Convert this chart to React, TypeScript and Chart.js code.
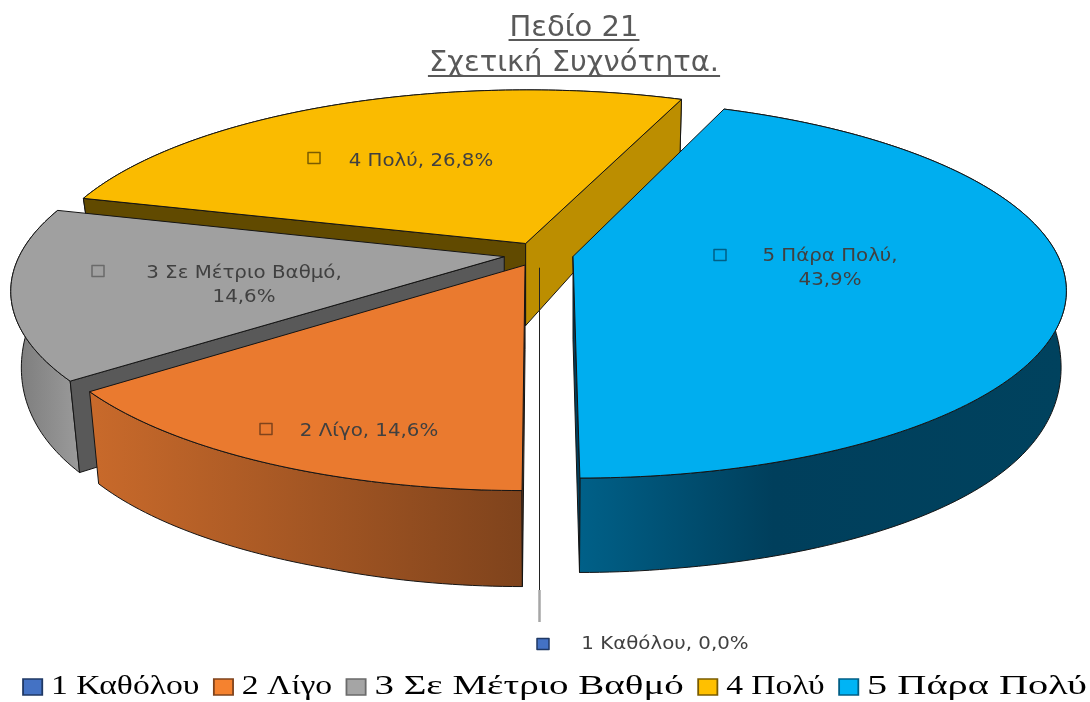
import React, { useEffect, useRef } from "react";
import { Chart, registerables } from "chart.js";

Chart.register(...registerables);

const categories = ["1 Καθόλου", "2 Λίγο", "3 Σε Μέτριο Βαθμό", "4 Πολύ", "5 Πάρα Πολύ"];
const percentages = [0, 14.6, 14.6, 26.8, 43.9];
const sliceOffsets = [20, 18, 20, 17.5, 19];
const titleLines = ["Πεδίο 21", "Σχετική Συχνότητα."];
const topColors = ["#4472c4", "#ea7a2f", "#a0a0a0", "#fabb00", "#00aeef"];
const legendFills = ["#4472c4", "#f5822f", "#a5a5a5", "#ffc000", "#00b4f5"];
const edgeColors = ["#1f3864", "#7f431c", "#6a6a6a", "#7a5c00", "#005f86"];
const startCutColors = ["#2f5597", "#7f431c", "#595959", "#614a00", "#003f5c"];
const endCutColors = ["#2f5597", "#7f431c", "#595959", "#bc8e00", "#003f5c"];
const legendTextStretch = [1, 1, 1.16, 1, 1.2];
const paintOrder = [3, 2, 4, 1];

const labelLayout = [
  { lines: 1, cx: 665, cy: 644, kx: 543, ky: 644 },
  { lines: 1, cx: 369, cy: 431, kx: 266, ky: 429 },
  { lines: 2, cx: 244, cy: 273, kx: 98, ky: 271 },
  { lines: 1, cx: 421, cy: 161, kx: 314, ky: 158 },
  { lines: 2, cx: 830, cy: 256, kx: 720, ky: 255 },
];

const SANS = "'DejaVu Sans'";
const CX = 539.5, CY = 254, R = 484, K = 0.17, A = 183;
const TIP_DEPTH = 83, RIM_DEPTH = 66, FAR_B = 185, NEAR_B = 195, RIM_BULGE = 10;
const SHRINK_LEFT = 0.98, SHRINK_RIGHT = 0.99;
const LEGEND_STRETCH = 1.2;

type P = { x: number; y: number };

function project(u: number, v: number, bottom: boolean, rim: boolean): P {
  const w = 1 - K * v;
  if (!bottom) return { x: CX + (R * u) / w, y: CY + (A * v) / w };
  const depth = rim ? RIM_DEPTH : TIP_DEPTH;
  const shrink = rim ? (u < 0 ? SHRINK_LEFT : SHRINK_RIGHT) : 1;
  const bulge = rim && v > 0 && v < 1 ? RIM_BULGE * Math.sin(Math.PI * v) : 0;
  return {
    x: CX + (R * shrink * u) / w,
    y: CY + ((v < 0 ? FAR_B : NEAR_B) * v + depth) / w + bulge,
  };
}

function slicePoints(arc: any, bottom: boolean) {
  const { startAngle, endAngle, outerRadius } = arc.getProps(["startAngle", "endAngle", "outerRadius"], true);
  const mid = (startAngle + endAngle) / 2;
  const e = arc.options.offset / outerRadius;
  const ou = Math.cos(mid) * e, ov = Math.sin(mid) * e;
  const tip = project(ou, ov, bottom, false);
  const rim: P[] = [];
  const n = Math.max(1, Math.ceil(((endAngle - startAngle) * 180) / Math.PI));
  for (let i = 0; i <= n; i++) {
    const a = startAngle + ((endAngle - startAngle) * i) / n;
    rim.push(project(ou + Math.cos(a), ov + Math.sin(a), bottom, true));
  }
  return { tip, rim };
}

function fillPoly(ctx: CanvasRenderingContext2D, pts: P[], fill: any) {
  ctx.beginPath();
  pts.forEach((p, i) => (i ? ctx.lineTo(p.x, p.y) : ctx.moveTo(p.x, p.y)));
  ctx.closePath();
  ctx.fillStyle = fill;
  ctx.fill();
  ctx.strokeStyle = "#141414";
  ctx.lineWidth = 1;
  ctx.lineJoin = "round";
  ctx.stroke();
}

function wallGradient(ctx: CanvasRenderingContext2D, i: number) {
  if (i === 1) {
    const g = ctx.createLinearGradient(88, 0, 522, 0);
    g.addColorStop(0, "#c96a2b");
    g.addColorStop(1, "#7f431c");
    return g;
  }
  if (i === 2) {
    const g = ctx.createLinearGradient(12, 0, 82, 0);
    g.addColorStop(0, "#7a7a7a");
    g.addColorStop(1, "#9c9c9c");
    return g;
  }
  if (i === 4) {
    const g = ctx.createLinearGradient(580, 0, 1062, 0);
    g.addColorStop(0, "#006088");
    g.addColorStop(0.4, "#003f5c");
    g.addColorStop(1, "#00425e");
    return g;
  }
  return endCutColors[i];
}

// A cut face shows only when extruding its top edge downward leaves the slice.
function cutVisible(tip: P, end: P, inner: P) {
  const ex = end.x - tip.x, ey = end.y - tip.y;
  const side = ex * (inner.y - tip.y) - ey * (inner.x - tip.x);
  return ex * side < 0;
}

// Runs fn with legend text widened per item, both when measuring and drawing.
function withLegendText(ctx: any, fn: () => void) {
  const factor = (t: string) => legendTextStretch[categories.indexOf(t)] ?? 1;
  const measure = ctx.measureText;
  const fill = ctx.fillText;
  ctx.measureText = function (t: string) {
    return { width: measure.call(ctx, t).width * factor(t) };
  };
  ctx.fillText = function (t: string, x: number, y: number) {
    ctx.save();
    ctx.translate(x, y);
    ctx.scale(factor(t), 1);
    fill.call(ctx, t, 0, 0);
    ctx.restore();
  };
  fn();
  delete ctx.measureText;
  delete ctx.fillText;
}

const pie3d = {
  id: "pie3d",
  beforeLayout(chart: any) {
    const legend = chart.legend;
    if (legend.__wrapped) return;
    legend.__wrapped = true;
    const ctx = chart.ctx;
    const fit = legend.fit;
    legend.fit = function (...args: any[]) {
      withLegendText(ctx, () => fit.apply(legend, args));
    };
    const draw = legend.draw;
    legend.draw = function (...args: any[]) {
      const c = (legend.left + legend.right) / 2;
      ctx.save();
      ctx.translate(c, 0);
      ctx.scale(LEGEND_STRETCH, 1);
      ctx.translate(-c, 0);
      withLegendText(ctx, () => draw.apply(legend, args));
      legend.legendHitBoxes.forEach((h: any, i: number) => {
        const mid = h.top + h.height / 2;
        ctx.fillStyle = legendFills[i];
        ctx.strokeStyle = edgeColors[i];
        ctx.lineWidth = 1.5;
        ctx.fillRect(h.left, mid - 8, 16, 16);
        ctx.strokeRect(h.left, mid - 8, 16, 16);
      });
      ctx.restore();
    };
  },
  afterLayout(chart: any) {
    chart.titleBlock.left += 29;
    chart.titleBlock.right += 29;
    const legend = chart.legend;
    legend.left += 10;
    legend.right += 10;
    legend.top += 11;
    legend.bottom += 11;
  },
  beforeDatasetDraw() {
    return false;
  },
  afterDatasetsDraw(chart: any) {
    const ctx: CanvasRenderingContext2D = chart.ctx;
    const arcs = chart.getDatasetMeta(0).data;
    ctx.save();
    paintOrder.forEach((i) => {
      const top = slicePoints(arcs[i], false);
      const bot = slicePoints(arcs[i], true);
      const n = top.rim.length - 1;
      const inner = top.rim[Math.floor(n / 2)];
      fillPoly(ctx, [...top.rim, ...bot.rim.slice().reverse()], wallGradient(ctx, i));
      if (cutVisible(top.tip, top.rim[0], inner)) {
        fillPoly(ctx, [top.tip, top.rim[0], bot.rim[0], bot.tip], startCutColors[i]);
      }
      if (cutVisible(top.tip, top.rim[n], inner)) {
        fillPoly(ctx, [top.tip, top.rim[n], bot.rim[n], bot.tip], endCutColors[i]);
      }
      fillPoly(ctx, [top.tip, ...top.rim], topColors[i]);
    });

    // leader of the empty first slice
    const zero = slicePoints(arcs[0], false);
    const lx = Math.round(zero.tip.x) - 0.5;
    ctx.beginPath();
    ctx.moveTo(lx, zero.tip.y);
    ctx.lineTo(lx, 590);
    ctx.strokeStyle = "#222222";
    ctx.lineWidth = 1;
    ctx.stroke();
    ctx.beginPath();
    ctx.moveTo(lx, 590);
    ctx.lineTo(lx, 622);
    ctx.strokeStyle = "#a6a6a6";
    ctx.lineWidth = 2.5;
    ctx.stroke();

    // data labels
    ctx.textAlign = "center";
    ctx.textBaseline = "middle";
    const stretched = (text: string, x: number, y: number) => {
      ctx.save();
      ctx.translate(x, y);
      ctx.scale(1.1, 1);
      ctx.font = `18px ${SANS}`;
      ctx.fillStyle = "#404040";
      ctx.fillText(text, 0, 0);
      ctx.restore();
    };
    categories.forEach((name, i) => {
      const l = labelLayout[i];
      const pct = percentages[i].toFixed(1).replace(".", ",") + "%";
      if (l.lines === 2) {
        stretched(name + ",", l.cx, l.cy);
        stretched(pct, l.cx, l.cy + 24.5);
      } else {
        stretched(`${name}, ${pct}`, l.cx, l.cy);
      }
      ctx.fillStyle = topColors[i];
      ctx.fillRect(l.kx - 6, l.ky - 5.5, 12, 11);
      ctx.strokeStyle = edgeColors[i];
      ctx.lineWidth = 1.5;
      ctx.strokeRect(l.kx - 6, l.ky - 5.5, 12, 11);
    });

    // title underlines
    const t = chart.titleBlock;
    const mid = (t.left + t.right) / 2;
    ctx.font = `${t.options.font.size}px ${SANS}`;
    ctx.strokeStyle = "#595959";
    ctx.lineWidth = 2;
    [40, 76].forEach((y, i) => {
      const w = ctx.measureText(titleLines[i]).width;
      ctx.beginPath();
      ctx.moveTo(mid - w / 2 - 1, y);
      ctx.lineTo(mid + w / 2 + 1, y);
      ctx.stroke();
    });
    ctx.restore();
  },
};

export default function App() {
  const ref = useRef<HTMLCanvasElement>(null);
  useEffect(() => {
    const chart = new Chart(ref.current as HTMLCanvasElement, {
      type: "pie",
      data: {
        labels: categories,
        datasets: [
          {
            data: percentages,
            backgroundColor: topColors,
            borderWidth: 0,
            offset: sliceOffsets,
          },
        ],
      },
      plugins: [pie3d],
      options: {
        responsive: false,
        animation: false,
        rotation: 180,
        layout: { padding: { top: 10, bottom: 2 } },
        plugins: {
          tooltip: { enabled: false },
          title: {
            display: true,
            text: titleLines,
            color: "#595959",
            font: { family: "DejaVu Sans", size: 29, weight: "normal", lineHeight: 1.24 },
            padding: { top: 0, bottom: 8 },
          },
          legend: {
            display: true,
            position: "bottom",
            labels: {
              color: "#595959",
              boxWidth: 9.3,
              boxHeight: 16,
              padding: 12,
              font: { family: "Liberation Serif", size: 28 },
              generateLabels: () =>
                categories.map((text, i) => ({
                  text,
                  fillStyle: "rgba(0,0,0,0)",
                  strokeStyle: "rgba(0,0,0,0)",
                  lineWidth: 0,
                  index: i,
                })),
            },
          },
        },
      },
    } as any);
    return () => chart.destroy();
  }, []);
  return (
    <div style={{ position: "fixed", left: 0, top: 0, width: 1090, height: 702, background: "#ffffff" }}>
      <canvas ref={ref} width={1090} height={702} style={{ display: "block" }} />
    </div>
  );
}
